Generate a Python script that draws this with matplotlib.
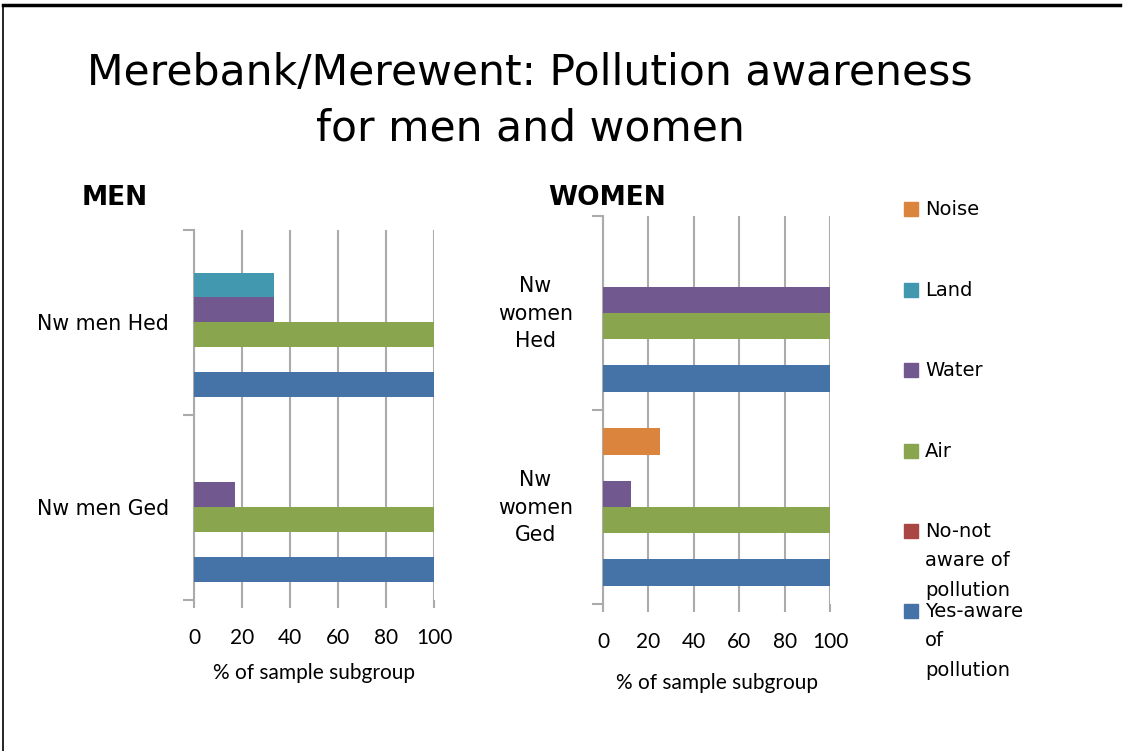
import matplotlib
matplotlib.use("Agg")
import matplotlib.pyplot as plt
from matplotlib.patches import Rectangle
from matplotlib.lines import Line2D
import matplotlib.transforms as mtransforms

# series, bottom to top inside each group
series = ["Yes-aware\nof\npollution", "No-not\naware of\npollution", "Air", "Water", "Land", "Noise"]
colors = ["#4572A7", "#AA4643", "#89A54E", "#71588F", "#4198AF", "#DB843D"]

men_groups = ["Nw men Ged", "Nw men Hed"]
men_yes = [100, 100]
men_no = [0, 0]
men_air = [100, 100]
men_water = [17, 33.3]
men_land = [0, 33.3]
men_noise = [0, 0]

women_groups = ["Nw\nwomen\nGed", "Nw\nwomen\nHed"]
women_yes = [100, 100]
women_no = [0, 0]
women_air = [100, 100]
women_water = [12.5, 100]
women_land = [0, 0]
women_noise = [25, 0]

xticks = [0, 20, 40, 60, 80, 100]

fig = plt.figure(figsize=(11.23, 7.51), dpi=100)

grid_col = "#ABABAB"
bar_h = 0.135


def draw_panel(ax, groups, values):
    n = len(values)
    for i, vals in enumerate(values):
        off = -bar_h * n / 2 + bar_h * (i + 0.5)
        ax.barh([g + off for g in range(len(groups))], vals, height=bar_h,
                color=colors[i], zorder=3)
    ax.set_xlim(0, 100)
    ax.set_ylim(-0.5, len(groups) - 0.5)
    ax.set_xticks(xticks)
    ax.set_xticklabels([str(t) for t in xticks], fontfamily="Lato", fontsize=15)
    ax.set_yticks(range(len(groups)))
    ax.set_yticklabels(groups, fontsize=14.8, linespacing=1.45, ha="center")
    ax.set_yticks([-0.5, 0.5, 1.5], minor=True)
    ax.tick_params(axis="y", which="major", length=0)
    ax.tick_params(axis="y", which="minor", length=8, color=grid_col, width=1.5)
    ax.tick_params(axis="x", length=6, color=grid_col, width=1.5, pad=14)
    ax.grid(axis="x", color=grid_col, lw=1.5, zorder=0)
    for s in ["top", "right", "bottom"]:
        ax.spines[s].set_visible(False)
    ax.spines["left"].set_color(grid_col)
    ax.spines["left"].set_linewidth(1.5)


ax1 = fig.add_axes([0.1728, 0.2011, 0.2137, 0.4927])
draw_panel(ax1, men_groups, [men_yes, men_no, men_air, men_water, men_land, men_noise])
for lab in ax1.get_yticklabels():
    lab.set_x(-0.36)
ax1.set_xlabel("% of sample subgroup", fontfamily="Lato", fontsize=15, labelpad=11)

ax2 = fig.add_axes([0.537, 0.1957, 0.2021, 0.5166])
draw_panel(ax2, women_groups, [women_yes, women_no, women_air, women_water, women_land, women_noise])
shift_up = mtransforms.ScaledTranslation(0, 5 / 100, fig.dpi_scale_trans)
for lab in ax2.get_yticklabels():
    lab.set_x(-0.277)
    lab.set_transform(lab.get_transform() + shift_up)
ax2.set_xlabel("% of sample subgroup", fontfamily="Lato", fontsize=15, labelpad=15)

fig.text(0.472, 1 - 101 / 751, "Merebank/Merewent: Pollution awareness\nfor men and women",
         ha="center", va="center", fontsize=30.6, linespacing=1.42)
fig.text(82 / 1123, 1 - 198 / 751, "MEN", fontsize=19, fontweight="bold",
         ha="left", va="center")
fig.text(548 / 1123, 1 - 198 / 751, "WOMEN", fontsize=19, fontweight="bold",
         ha="left", va="center")

# legend, drawn top to bottom
leg_y = [209, 290, 370, 451, 531, 611]
for k, i in enumerate(reversed(range(len(series)))):
    y = 1 - leg_y[k] / 751
    fig.add_artist(Rectangle((904 / 1123, y - 7 / 751), 14 / 1123, 14 / 751,
                             transform=fig.transFigure, color=colors[i]))
    fig.text(925 / 1123, y + 9 / 751, series[i], fontsize=14, ha="left", va="top",
             linespacing=1.7)

# slide frame
fig.add_artist(Line2D([3 / 1123, 3 / 1123], [0, 1 - 5 / 751], color="black", lw=1.2,
                      transform=fig.transFigure))
fig.add_artist(Line2D([3 / 1123, 1120 / 1123], [1 - 5 / 751, 1 - 5 / 751], color="black",
                      lw=2.5, transform=fig.transFigure))

fig.savefig("out.png", dpi=100)
